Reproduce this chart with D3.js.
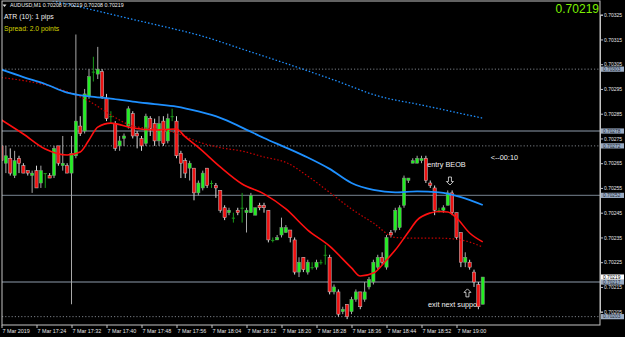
<!DOCTYPE html>
<html><head><meta charset="utf-8">
<script src="https://cdn.jsdelivr.net/npm/d3@7/dist/d3.min.js"></script>
<style>
html,body{margin:0;padding:0;background:#000;overflow:hidden;}
svg{display:block;}
text{font-family:"Liberation Sans",Arial,sans-serif;}
</style></head><body>
<svg id="c" width="625" height="337"></svg>
<script>
// ---- data (AUDUSD M1, 7 Mar 2019) ----
const times = ["17:16","17:17","17:18","17:19","17:20","17:21","17:22","17:23","17:24","17:25","17:26","17:27","17:28","17:29","17:30","17:31",
"17:32","17:33","17:34","17:35","17:36","17:37","17:38","17:39","17:40","17:41","17:42","17:43","17:44","17:45","17:46","17:47",
"17:48","17:49","17:50","17:51","17:52","17:53","17:54","17:55","17:56","17:57","17:58","17:59","18:00","18:01","18:02","18:03",
"18:04","18:05","18:06","18:07","18:08","18:09","18:10","18:11","18:12","18:13","18:14","18:15","18:16","18:17","18:18","18:19",
"18:20","18:21","18:22","18:23","18:24","18:25","18:26","18:27","18:28","18:29","18:30","18:31","18:32","18:33","18:34","18:35",
"18:36","18:37","18:38","18:39","18:40","18:41","18:42","18:43","18:44","18:45","18:46","18:47","18:48","18:49","18:50","18:51",
"18:52","18:53","18:54","18:55","18:56","18:57","18:58","18:59","19:00","19:01","19:02","19:03","19:04","19:05","19:06"];
const open = [0.70272,0.70265,0.70267,0.70260,0.70267,0.70264,0.70262,0.70260,0.70262,0.70257,0.70261,0.70260,0.70260,0.70272,0.70264,0.70264,
0.70261,0.70268,0.70280,0.70278,0.70292,0.70302,0.70301,0.70302,0.70291,0.70284,0.70281,0.70272,0.70275,0.70280,0.70285,0.70277,
0.70275,0.70273,0.70283,0.70281,0.70274,0.70282,0.70274,0.70284,0.70282,0.70269,0.70266,0.70263,0.70263,0.70253,0.70255,0.70263,
0.70257,0.70256,0.70254,0.70247,0.70245,0.70243,0.70246,0.70247,0.70245,0.70245,0.70244,0.70248,0.70248,0.70246,0.70234,0.70234,
0.70236,0.70237,0.70238,0.70234,0.70221,0.70227,0.70221,0.70223,0.70223,0.70225,0.70228,0.70227,0.70213,0.70213,0.70205,0.70208,
0.70205,0.70210,0.70213,0.70210,0.70215,0.70217,0.70223,0.70227,0.70223,0.70237,0.70238,0.70239,0.70248,0.70258,0.70265,0.70265,
0.70266,0.70267,0.70257,0.70255,0.70246,0.70246,0.70248,0.70253,0.70245,0.70237,0.70225,0.70225,0.70221,0.70216,0.70208];
const high = [0.70273,0.70272,0.70271,0.70270,0.70268,0.70265,0.70262,0.70262,0.70264,0.70264,0.70261,0.70261,0.70272,0.70272,0.70276,0.70265,
0.70276,0.70317,0.70284,0.70295,0.70303,0.70308,0.70312,0.70303,0.70293,0.70286,0.70282,0.70276,0.70277,0.70288,0.70286,0.70278,
0.70276,0.70285,0.70284,0.70283,0.70284,0.70284,0.70285,0.70287,0.70284,0.70270,0.70267,0.70266,0.70263,0.70258,0.70262,0.70263,
0.70258,0.70257,0.70254,0.70248,0.70247,0.70245,0.70247,0.70253,0.70247,0.70253,0.70247,0.70249,0.70249,0.70246,0.70235,0.70236,
0.70243,0.70240,0.70238,0.70235,0.70227,0.70227,0.70226,0.70225,0.70226,0.70226,0.70232,0.70228,0.70216,0.70214,0.70207,0.70208,
0.70211,0.70214,0.70213,0.70217,0.70219,0.70226,0.70228,0.70229,0.70236,0.70238,0.70247,0.70248,0.70260,0.70259,0.70267,0.70268,
0.70268,0.70268,0.70258,0.70256,0.70247,0.70248,0.70254,0.70254,0.70245,0.70237,0.70229,0.70226,0.70222,0.70217,0.70219];
const low = [0.70265,0.70261,0.70260,0.70259,0.70261,0.70261,0.70260,0.70253,0.70255,0.70255,0.70255,0.70259,0.70259,0.70264,0.70262,0.70261,
0.70208,0.70267,0.70276,0.70277,0.70291,0.70298,0.70299,0.70291,0.70282,0.70281,0.70270,0.70270,0.70272,0.70279,0.70275,0.70271,
0.70270,0.70272,0.70276,0.70272,0.70272,0.70272,0.70273,0.70282,0.70267,0.70259,0.70259,0.70258,0.70250,0.70252,0.70254,0.70255,
0.70255,0.70251,0.70245,0.70242,0.70244,0.70241,0.70244,0.70241,0.70237,0.70245,0.70244,0.70246,0.70245,0.70233,0.70233,0.70234,
0.70235,0.70237,0.70233,0.70220,0.70219,0.70221,0.70220,0.70222,0.70222,0.70224,0.70224,0.70212,0.70212,0.70203,0.70204,0.70202,
0.70204,0.70209,0.70206,0.70209,0.70214,0.70216,0.70222,0.70224,0.70222,0.70235,0.70237,0.70238,0.70247,0.70257,0.70265,0.70265,
0.70265,0.70257,0.70255,0.70244,0.70245,0.70245,0.70248,0.70244,0.70234,0.70223,0.70223,0.70222,0.70215,0.70206,0.70208];
const close = [0.70266,0.70268,0.70261,0.70266,0.70265,0.70261,0.70261,0.70261,0.70255,0.70262,0.70261,0.70259,0.70271,0.70265,0.70265,0.70261,
0.70269,0.70282,0.70277,0.70293,0.70300,0.70302,0.70303,0.70292,0.70283,0.70284,0.70271,0.70274,0.70276,0.70287,0.70276,0.70276,
0.70272,0.70284,0.70279,0.70274,0.70281,0.70273,0.70283,0.70284,0.70268,0.70265,0.70261,0.70265,0.70253,0.70257,0.70261,0.70256,
0.70257,0.70255,0.70246,0.70243,0.70246,0.70243,0.70245,0.70247,0.70246,0.70252,0.70247,0.70247,0.70247,0.70234,0.70234,0.70235,
0.70239,0.70239,0.70235,0.70221,0.70225,0.70222,0.70225,0.70223,0.70225,0.70225,0.70228,0.70213,0.70215,0.70204,0.70206,0.70203,
0.70210,0.70213,0.70207,0.70213,0.70218,0.70225,0.70227,0.70225,0.70235,0.70236,0.70246,0.70247,0.70259,0.70259,0.70266,0.70267,
0.70267,0.70258,0.70256,0.70246,0.70246,0.70247,0.70253,0.70245,0.70235,0.70225,0.70227,0.70223,0.70217,0.70207,0.70219];

const maFastIdx = [0,5,10,15,18,20,22,25,30,35,40,42,45,50,55,60,65,70,75,80,82,85,88,90,93,95,98,100,102,104,107,110];
const maFast = [0.702825,0.702768,0.702707,0.702683,0.702695,0.702744,0.702796,0.702812,0.702792,0.702784,0.702788,0.702756,0.702714,0.702635,0.702566,0.702526,
0.702465,0.702380,0.702315,0.702227,0.702194,0.702206,0.702259,0.702299,0.702372,0.702420,0.702449,0.702455,0.702453,0.702429,0.702368,0.702332];
const maMidIdx = [0,5,10,15,20,25,30,35,40,45,50,55,60,65,70,75,80,85,90,95,100,105,110];
const maMid = [0.702996,0.702984,0.702966,0.702939,0.702901,0.702845,0.702800,0.702788,0.702772,0.702736,0.702713,0.702699,0.702675,0.702653,0.702598,0.702532,
0.702465,0.702408,0.702350,0.702347,0.702347,0.702340,0.702311];
const maSlowIdx = [0,5,10,15,20,25,30,35,40,45,50,55,60,65,70,75,80,85,90,95,100,105,110];
const maSlow = [0.703028,0.702998,0.702970,0.702935,0.702920,0.702911,0.702899,0.702889,0.702879,0.702859,0.702833,0.702794,0.702752,0.702713,0.702673,0.702627,
0.702570,0.702542,0.702532,0.702536,0.702532,0.702513,0.702481];
const maLongIdx = [0,12,20,30,40,45,55,65,76,86,96,110];
const maLong = [0.703356,0.703305,0.703273,0.703231,0.703190,0.703168,0.703111,0.703053,0.702986,0.702922,0.702885,0.702832];

const priceTicks = [0.70325,0.70315,0.70305,0.70295,0.70285,0.70275,0.70265,0.70255,0.70245,0.70235,0.70225,0.70215,0.70205];
const timeTickIdx = [0,8,16,24,32,40,48,56,64,72,80,88,96,104];
const timeTickLabels = ["7 Mar 2019","7 Mar 17:24","7 Mar 17:32","7 Mar 17:40","7 Mar 17:48","7 Mar 17:56","7 Mar 18:04","7 Mar 18:12","7 Mar 18:20","7 Mar 18:28","7 Mar 18:36","7 Mar 18:44","7 Mar 18:52","7 Mar 19:00"];
const solidLevels = [0.70278,0.70252,0.70217];
const dottedLevels = [0.70303,0.70272,0.70203];
const noteTexts = ["entry BEOB","exit next suppo","<--00:10"];
const noteIdx = [97.3,97.5,111.8];
const notePrice = [0.702643,0.702081,0.702675];
const arrowIdx = [102.5,106.5];
const arrowPrice = [0.702578,0.702126];
const arrowDir = ["down","up"];

// ---- drawing ----
const W=625,H=337, L=2, R=600, T=1, B=325;
const svg = d3.select("#c");
svg.append("rect").attr("width",W).attr("height",H).attr("fill","#000");
svg.append("defs").append("clipPath").attr("id","pc").append("rect")
  .attr("x",L).attr("y",T).attr("width",R-L).attr("height",B-T);

const x = d3.scaleLinear().domain([0,110]).range([1.5,482.75]);
const y = d3.scaleLinear().domain([0.70205,0.70325]).range([311.7,14.7]);

const plot = svg.append("g").attr("clip-path","url(#pc)");

// horizontal levels
plot.selectAll(".sl").data(solidLevels).join("line")
  .attr("x1",L).attr("x2",R).attr("y1",d=>y(d)).attr("y2",d=>y(d))
  .attr("stroke","#5f6973").attr("stroke-width",1.4);
plot.selectAll(".dl").data(dottedLevels).join("line")
  .attr("x1",L).attr("x2",R).attr("y1",d=>y(d)).attr("y2",d=>y(d))
  .attr("stroke","#7a7f86").attr("stroke-width",1).attr("stroke-dasharray","1.2,2");

// candles
const bars = d3.range(times.length).map(i=>({i,o:open[i],h:high[i],l:low[i],c:close[i]}));
const wickCol = d => d.o===d.c ? "#1a9a1a" : (d.c>d.o ? "#a8a8a8" : "#d8d8d8");
plot.selectAll(".wick").data(bars).join("line")
  .attr("x1",d=>x(d.i)).attr("x2",d=>x(d.i))
  .attr("y1",d=>y(d.h)).attr("y2",d=>y(d.l))
  .attr("stroke",wickCol).attr("stroke-width",1);
plot.selectAll(".body").data(bars).join("rect")
  .attr("x",d=>x(d.i)-1.6).attr("width",3.2)
  .attr("y",d=>Math.min(y(d.o),y(d.c)))
  .attr("height",d=>Math.max(1,Math.abs(y(d.o)-y(d.c))))
  .attr("fill",d=> d.o===d.c ? "#1a9a1a" : (d.c>d.o ? "#22ee22" : "#ee1111"))
  .attr("stroke",d=> d.o===d.c ? "none" : (d.c>d.o ? "#8a8a8a" : "#c8c8c8"))
  .attr("stroke-width",0.5);

// moving averages
const mk = (idx,vals) => idx.map((k,j)=>[k,vals[j]]);
const line = d3.line().x(d=>x(d[0])).y(d=>y(d[1])).curve(d3.curveMonotoneX);
plot.append("path").attr("d",line(mk(maLongIdx,maLong))).attr("fill","none")
  .attr("stroke","#1e8fff").attr("stroke-width",1.3).attr("stroke-dasharray","1.5,2");
plot.append("path").attr("d",line(mk(maMidIdx,maMid))).attr("fill","none")
  .attr("stroke","#c80000").attr("stroke-width",1.2).attr("stroke-dasharray","1.5,2");
plot.append("path").attr("d",line(mk(maSlowIdx,maSlow))).attr("fill","none")
  .attr("stroke","#1e90ff").attr("stroke-width",1.8);
plot.append("path").attr("d",line(mk(maFastIdx,maFast))).attr("fill","none")
  .attr("stroke","#ff1010").attr("stroke-width",1.6);

// annotations
plot.selectAll(".note").data(noteTexts).join("text")
  .attr("x",(d,k)=>x(noteIdx[k])).attr("y",(d,k)=>y(notePrice[k])).attr("dy","0.35em")
  .attr("fill","#f0f0f0").attr("font-size",7.3).text(d=>d);
plot.selectAll(".arr").data(arrowDir).join("path")
  .attr("d",(d,k)=>{
    const cx=x(arrowIdx[k]), cy=y(arrowPrice[k]), s = d==="down"?1:-1;
    const t=cy-4*s, m=cy+0.5*s, b=cy+4*s;
    return `M${cx-1.5},${t}L${cx+1.5},${t}L${cx+1.5},${m}L${cx+3.5},${m}L${cx},${b}L${cx-3.5},${m}L${cx-1.5},${m}Z`;
  })
  .attr("fill","none").attr("stroke","#e8e8e8").attr("stroke-width",0.8);

// frame
svg.append("rect").attr("x",L).attr("y",T).attr("width",R-L).attr("height",B-T)
  .attr("fill","none").attr("stroke","#c4c4c4").attr("stroke-width",1);

// right price axis
const ya = svg.append("g").attr("transform",`translate(${R},0)`)
  .call(d3.axisRight(y).tickValues(priceTicks).tickSize(3).tickPadding(1).tickFormat(d3.format(".5f")));
ya.select(".domain").attr("stroke","#c4c4c4");
ya.selectAll(".tick line").attr("stroke","#c4c4c4");
ya.selectAll("text").attr("fill","#e6e6e6").attr("font-size",5).attr("font-family","Liberation Sans, Arial");

// level boxes on the price axis
const lv = solidLevels.concat(dottedLevels);
const bx = svg.selectAll(".lb").data(lv).join("g").attr("transform",d=>`translate(${R+1},${y(d)})`);
bx.append("rect").attr("x",0).attr("y",-2.6).attr("width",23).attr("height",5.2).attr("fill","#9aabc2");
bx.append("text").attr("x",2).attr("y",0).attr("dy","0.35em").attr("font-size",4.8)
  .attr("fill","#1c2633").text(d=>d3.format(".5f")(d));
const last = close[close.length-1];
const cb = svg.append("g").attr("transform",`translate(${R+1},${y(last)})`);
cb.append("rect").attr("x",0).attr("y",-2.6).attr("width",23).attr("height",5.2).attr("fill","#ffffff");
cb.append("text").attr("x",2).attr("y",0).attr("dy","0.35em").attr("font-size",4.8).attr("fill","#000").text(d3.format(".5f")(last));

// bottom time axis
const xa = svg.append("g").attr("transform",`translate(0,${B})`)
  .call(d3.axisBottom(x).tickValues(timeTickIdx).tickSize(3).tickPadding(1).tickFormat((d,k)=>timeTickLabels[k]));
xa.select(".domain").remove();
xa.selectAll(".tick line").attr("stroke","#c4c4c4");
xa.selectAll("text").attr("fill","#e6e6e6").attr("font-size",5.4).attr("text-anchor","start").attr("dx",0.5)
  .attr("font-family","Liberation Sans, Arial");

// header texts
svg.append("path").attr("d","M2.5,4.5L6.5,4.5L4.5,7Z").attr("fill","#e0e0e0");
svg.append("text").attr("x",10).attr("y",7.3).attr("font-size",5.3).attr("fill","#f0f0f0")
  .text(`AUDUSD,M1  ${d3.format(".5f")(open[110])} ${d3.format(".5f")(high[110])} ${d3.format(".5f")(low[110])} ${d3.format(".5f")(close[110])}`);
svg.append("text").attr("x",4).attr("y",19).attr("font-size",6.9).attr("fill","#f0f0f0").text("ATR (10): 1 pips");
svg.append("text").attr("x",4).attr("y",30.5).attr("font-size",6.8).attr("fill","#d2d200").text("Spread: 2.0 points");
svg.append("text").attr("x",599).attr("y",12.8).attr("text-anchor","end").attr("font-size",12)
  .attr("fill","#7cf000").text(d3.format(".5f")(last));
</script>
</body></html>
